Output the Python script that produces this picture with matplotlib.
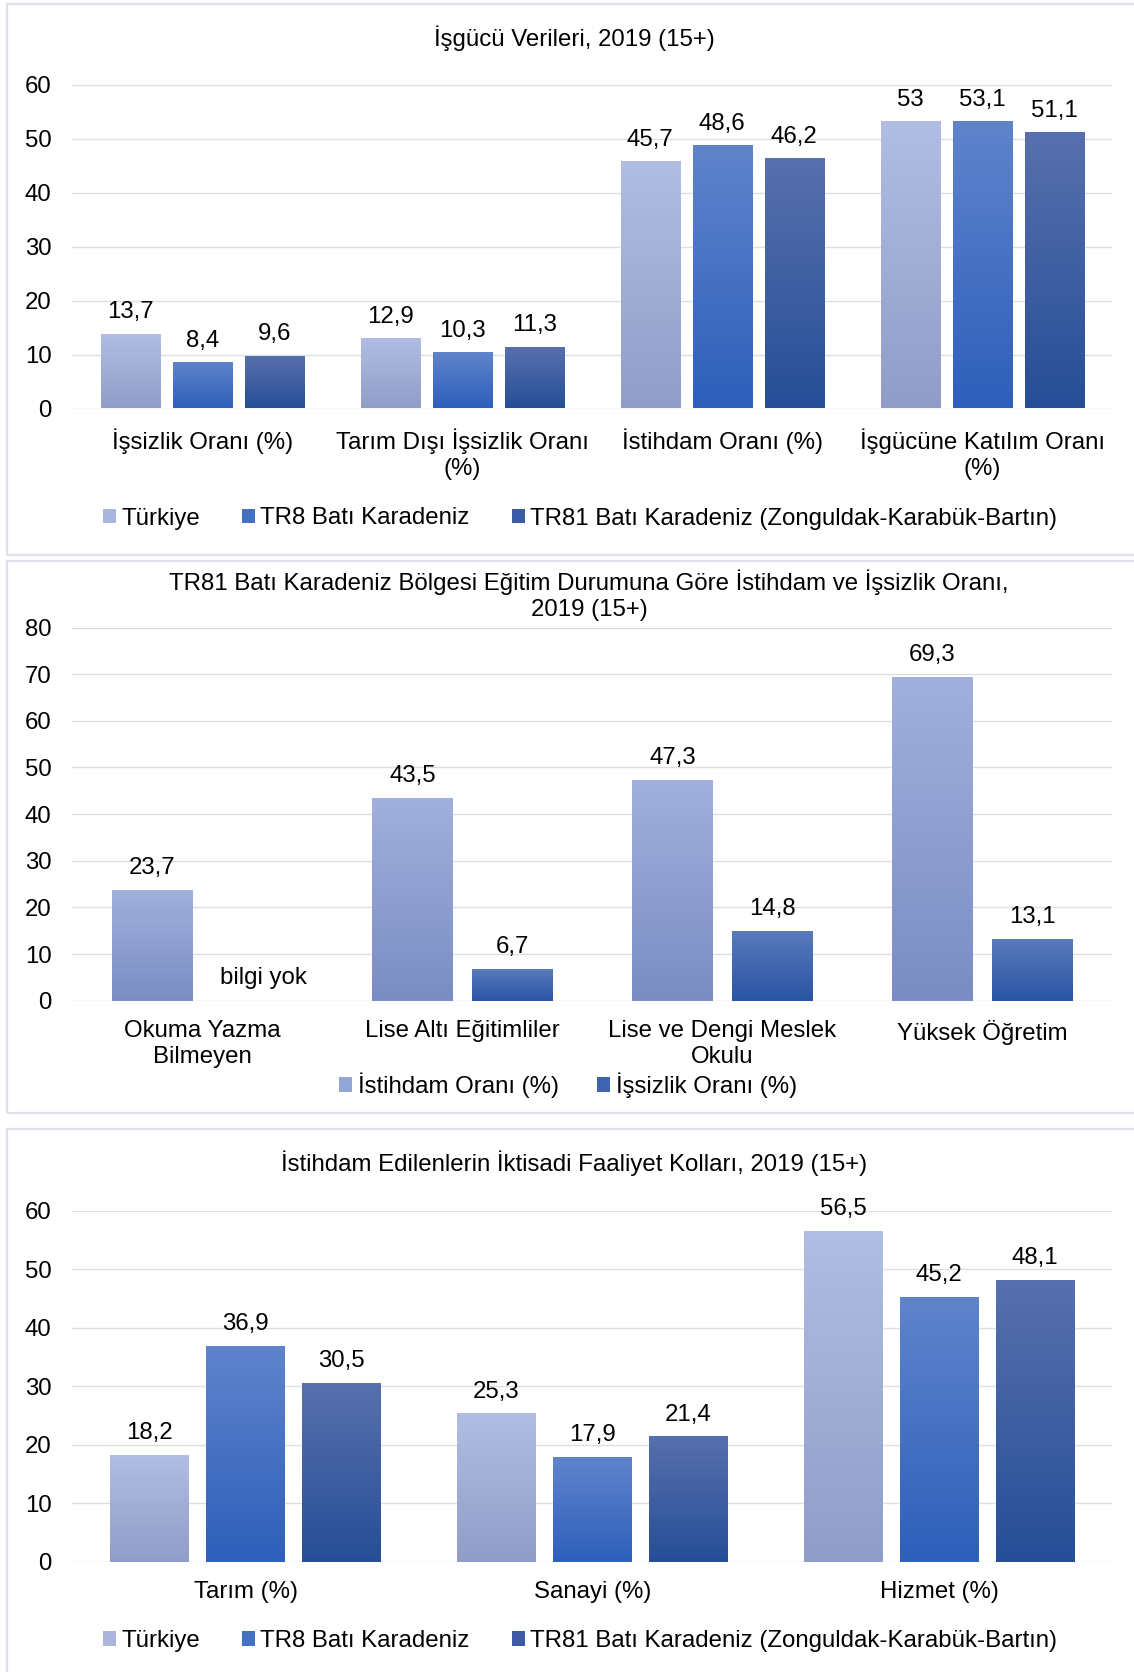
import numpy as np
import matplotlib
matplotlib.use('Agg')
import matplotlib.pyplot as plt
from matplotlib.colors import LinearSegmentedColormap
from matplotlib.patches import Rectangle, Patch

plt.rcParams['font.family'] = ['Liberation Sans', 'DejaVu Sans']

# ---- data ----
p1_title = 'İşgücü Verileri, 2019 (15+)'
p1_cats = ['İşsizlik Oranı (%)', 'Tarım Dışı İşsizlik Oranı\n(%)', 'İstihdam Oranı (%)', 'İşgücüne Katılım Oranı\n(%)']
p1_turkiye = [13.7, 12.9, 45.7, 53.0]
p1_tr8 = [8.4, 10.3, 48.6, 53.1]
p1_tr81 = [9.6, 11.3, 46.2, 51.1]

p2_title = 'TR81 Batı Karadeniz Bölgesi Eğitim Durumuna Göre İstihdam ve İşsizlik Oranı,\n2019 (15+)'
p2_cats = ['Okuma Yazma\nBilmeyen', 'Lise Altı Eğitimliler', 'Lise ve Dengi Meslek\nOkulu', 'Yüksek Öğretim']
p2_istihdam = [23.7, 43.5, 47.3, 69.3]
p2_issizlik = [None, 6.7, 14.8, 13.1]

p3_title = 'İstihdam Edilenlerin İktisadi Faaliyet Kolları, 2019 (15+)'
p3_cats = ['Tarım (%)', 'Sanayi (%)', 'Hizmet (%)']
p3_turkiye = [18.2, 25.3, 56.5]
p3_tr8 = [36.9, 17.9, 45.2]
p3_tr81 = [30.5, 21.4, 48.1]

series3 = ['Türkiye', 'TR8 Batı Karadeniz', 'TR81 Batı Karadeniz (Zonguldak-Karabük-Bartın)']
series2 = ['İstihdam Oranı (%)', 'İşsizlik Oranı (%)']

# (top, bottom, legend) colours
C_TR = ('#b1bde2', '#8f9dc8', '#a9b5dc')
C_TR8 = ('#5f84cc', '#2e5fba', '#4471c4')
C_TR81 = ('#5870ad', '#264e97', '#3b5ca4')
C_IST = ('#a1b0dc', '#7a8cc3', '#93a4d6')
C_ISS = ('#5a7abb', '#2a54a4', '#3f64b0')

W, H = 1134, 1672
FS = 17.3
GRID = '#dadfe8'

fig = plt.figure(figsize=(W / 100, H / 100), dpi=100)


def px_axes(left, top, right, bottom):
    return fig.add_axes([left / W, 1 - bottom / H, (right - left) / W, (bottom - top) / H])


def panel_box(top, bottom):
    fig.add_artist(Rectangle((7 / W, 1 - bottom / H), 1.2, (bottom - top) / H,
                             transform=fig.transFigure, fill=False,
                             ec='#dde1e8', lw=1.6, zorder=0))


def fmt(v):
    return ('%g' % v).replace('.', ',')


def grad_bars(ax, xs, vals, width, colors):
    hs = [0 if v is None else v for v in vals]
    bars = ax.bar(xs, hs, width, color='none', edgecolor='none', zorder=2)
    cmap = LinearSegmentedColormap.from_list('g', [colors[1], colors[0]])
    grad = np.linspace(0, 1, 256).reshape(-1, 1)
    for p, v in zip(bars, vals):
        if v is None:
            continue
        x0, w, h = p.get_x(), p.get_width(), p.get_height()
        ax.imshow(grad, extent=(x0, x0 + w, 0, h), origin='lower', cmap=cmap,
                  aspect='auto', interpolation='bicubic', zorder=2)
        ax.annotate(fmt(v), (x0 + w / 2, h), xytext=(0, 16), textcoords='offset points',
                    ha='center', va='center', fontsize=FS)
    return bars


def style(ax, cats, ymax, step):
    n = len(cats)
    ax.set_xlim(-0.5, n - 0.5)
    ax.set_ylim(0, ymax)
    ax.set_yticks(np.arange(0, ymax + 1, step))
    ax.set_xticks(range(n))
    ax.set_xticklabels(cats, fontsize=FS, linespacing=1.25)
    ax.tick_params(axis='y', length=0, pad=15, labelsize=FS)
    ax.tick_params(axis='x', length=0, pad=14)
    for s in ax.spines.values():
        s.set_visible(False)
    ax.grid(axis='y', color=GRID, lw=1.0)
    ax.set_axisbelow(True)


def legend(ax, labels, colors, cx, cy, colsp):
    handles = [Patch(facecolor=c[2], edgecolor='none') for c in colors]
    fig.legend(handles, labels, loc='center', bbox_to_anchor=(cx / W, 1 - cy / H),
               ncol=len(labels), frameon=False, fontsize=FS, handlelength=0.55,
               handleheight=0.55, handletextpad=0.22, columnspacing=colsp)


# ---- panel 1 ----
panel_box(4, 555)
ax1 = px_axes(72.3, 84.7, 1112.3, 408.5)
x = np.arange(len(p1_cats))
bw, off = 0.227, 0.277
grad_bars(ax1, x - off, p1_turkiye, bw, C_TR)
grad_bars(ax1, x, p1_tr8, bw, C_TR8)
grad_bars(ax1, x + off, p1_tr81, bw, C_TR81)
style(ax1, p1_cats, 60, 10)
fig.text(574 / W, 1 - 38.4 / H, p1_title, ha='center', va='center', fontsize=FS)
legend(ax1, series3, [C_TR, C_TR8, C_TR81], 580, 518.5, 1.75)

# ---- panel 2 ----
panel_box(561, 1113)
ax2 = px_axes(72.3, 627.5, 1112.3, 1000.7)
x = np.arange(len(p2_cats))
grad_bars(ax2, x - 0.192, p2_istihdam, 0.31, C_IST)
grad_bars(ax2, x + 0.192, p2_issizlik, 0.31, C_ISS)
ax2.annotate('bilgi yok', (0 + 0.192 + 0.044, 0), xytext=(0, 16), textcoords='offset points',
             ha='center', va='center', fontsize=FS)
style(ax2, p2_cats, 80, 10)
fig.text(589 / W, 1 - 595.5 / H, p2_title, ha='center', va='center', fontsize=FS, linespacing=1.25)
legend(ax2, series2, [C_IST, C_ISS], 568, 1085, 1.6)

# ---- panel 3 ----
panel_box(1129, 1690)
ax3 = px_axes(72.3, 1210.8, 1112.3, 1562)
x = np.arange(len(p3_cats))
grad_bars(ax3, x - off, p3_turkiye, bw, C_TR)
grad_bars(ax3, x, p3_tr8, bw, C_TR8)
grad_bars(ax3, x + off, p3_tr81, bw, C_TR81)
style(ax3, p3_cats, 60, 10)
fig.text(574 / W, 1 - 1162.8 / H, p3_title, ha='center', va='center', fontsize=FS)
legend(ax3, series3, [C_TR, C_TR8, C_TR81], 580, 1640.8, 1.75)

fig.savefig('out.png', dpi=100)
